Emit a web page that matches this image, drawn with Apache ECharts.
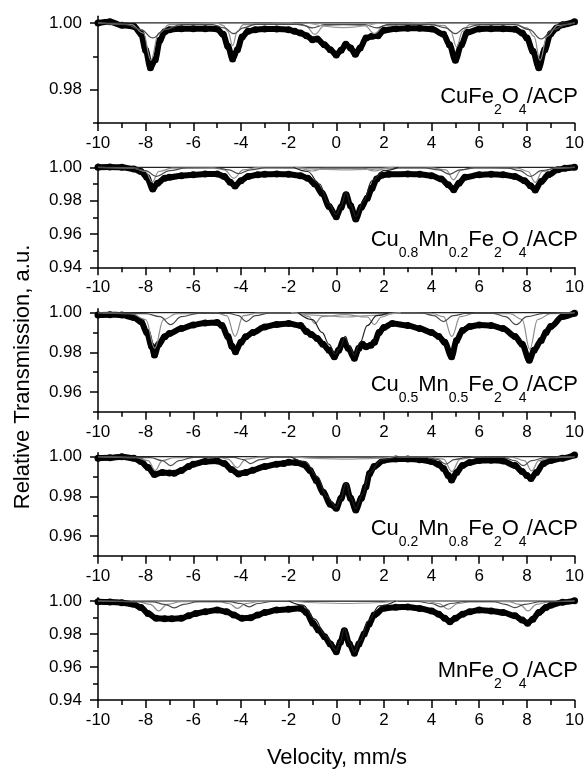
<!DOCTYPE html>
<html>
<head>
<meta charset="utf-8">
<script src="https://cdn.jsdelivr.net/npm/echarts@6/dist/echarts.min.js"></script>
<style>
  html, body { margin: 0; padding: 0; background: #fff; }
  #chart { width: 587px; height: 769px; }
</style>
</head>
<body>
<div id="chart"></div>
<script>
// velocity (mm/s), relative transmission
const cuFe2O4Data = [[-10,1.0000],[-9.5,1.0004],[-9,0.9993],[-8.5,0.9990],[-8.2,0.9968],[-8.0,0.9918],[-7.8,0.9866],[-7.6,0.9890],[-7.4,0.9948],[-7.2,0.9974],[-7.0,0.9980],[-6.5,0.9983],[-6,0.9983],[-5.5,0.9983],[-5,0.9982],[-4.75,0.9966],[-4.55,0.9930],[-4.35,0.9892],[-4.15,0.9920],[-3.95,0.9958],[-3.7,0.9975],[-3.4,0.9980],[-3,0.9982],[-2.5,0.9982],[-2,0.9980],[-1.75,0.9975],[-1.5,0.9970],[-1.25,0.9962],[-1.0,0.9950],[-0.8,0.9952],[-0.5,0.9935],[-0.25,0.9920],[0.0,0.9904],[0.2,0.9918],[0.4,0.9936],[0.6,0.9925],[0.8,0.9906],[1.0,0.9925],[1.25,0.9955],[1.5,0.9960],[1.75,0.9962],[2.0,0.9978],[2.5,0.9983],[3,0.9984],[3.5,0.9984],[4,0.9982],[4.5,0.9966],[4.75,0.9935],[5.0,0.9888],[5.25,0.9935],[5.5,0.9972],[6,0.9982],[6.5,0.9983],[7,0.9983],[7.5,0.9981],[7.8,0.9970],[8.0,0.9955],[8.25,0.9915],[8.5,0.9866],[8.75,0.9920],[9.0,0.9968],[9.25,0.9985],[9.5,0.9995],[10,1.0004]];
const cu08Data = [[-10,1.0000],[-9.5,1.0002],[-9,1.0000],[-8.5,0.9990],[-8.2,0.9975],[-7.95,0.9940],[-7.7,0.9870],[-7.5,0.9905],[-7.2,0.9935],[-7,0.9940],[-6.5,0.9950],[-6,0.9955],[-5.5,0.9960],[-5,0.9960],[-4.7,0.9945],[-4.45,0.9910],[-4.25,0.9888],[-4.0,0.9920],[-3.7,0.9945],[-3.3,0.9955],[-3,0.9958],[-2.5,0.9960],[-2,0.9958],[-1.5,0.9950],[-1.2,0.9935],[-0.9,0.9900],[-0.6,0.9845],[-0.3,0.9765],[0.0,0.9704],[0.2,0.9760],[0.41,0.9835],[0.6,0.9770],[0.82,0.9690],[1.05,0.9760],[1.3,0.9815],[1.5,0.9875],[1.7,0.9930],[1.9,0.9952],[2.2,0.9958],[3,0.9960],[3.5,0.9958],[4,0.9950],[4.4,0.9930],[4.7,0.9895],[4.93,0.9866],[5.15,0.9905],[5.4,0.9940],[6,0.9955],[6.5,0.9958],[7,0.9955],[7.5,0.9945],[7.9,0.9920],[8.15,0.9890],[8.35,0.9864],[8.6,0.9915],[8.9,0.9955],[9.3,0.9985],[9.6,0.9995],[10,1.0000]];
const cu05Data = [[-10,0.9988],[-9.5,0.9990],[-9,0.9988],[-8.5,0.9975],[-8.2,0.9955],[-7.95,0.9900],[-7.75,0.9830],[-7.63,0.9786],[-7.45,0.9840],[-7.2,0.9878],[-7,0.9895],[-6.5,0.9920],[-6,0.9938],[-5.5,0.9948],[-5,0.9950],[-4.8,0.9935],[-4.55,0.9880],[-4.38,0.9830],[-4.23,0.9803],[-4.0,0.9850],[-3.8,0.9878],[-3.5,0.9900],[-3,0.9928],[-2.5,0.9940],[-2,0.9945],[-1.5,0.9935],[-1.25,0.9905],[-1.05,0.9890],[-0.8,0.9870],[-0.56,0.9840],[-0.3,0.9810],[-0.08,0.9777],[0.1,0.9810],[0.3,0.9860],[0.5,0.9820],[0.76,0.9770],[0.95,0.9820],[1.1,0.9840],[1.25,0.9828],[1.45,0.9835],[1.6,0.9850],[1.8,0.9900],[2.0,0.9925],[2.35,0.9945],[3,0.9935],[3.5,0.9920],[4.0,0.9900],[4.3,0.9880],[4.55,0.9850],[4.84,0.9777],[5.05,0.9860],[5.3,0.9910],[5.6,0.9930],[6,0.9938],[6.5,0.9935],[7,0.9920],[7.5,0.9880],[7.8,0.9840],[8.1,0.9760],[8.3,0.9810],[8.6,0.9860],[8.8,0.9900],[9,0.9930],[9.5,0.9980],[10,0.9997]];
const cu02Data = [[-10,0.9992],[-9.5,0.9994],[-9,1.0000],[-8.5,0.9992],[-8.2,0.9975],[-7.9,0.9945],[-7.63,0.9910],[-7.3,0.9920],[-7,0.9918],[-6.8,0.9916],[-6.5,0.9930],[-6.2,0.9950],[-6,0.9962],[-5.5,0.9975],[-5,0.9978],[-4.7,0.9965],[-4.4,0.9935],[-4.1,0.9913],[-3.8,0.9920],[-3.5,0.9932],[-3,0.9950],[-2.5,0.9962],[-2.2,0.9966],[-2,0.9972],[-1.7,0.9970],[-1.39,0.9962],[-1.1,0.9930],[-0.84,0.9880],[-0.55,0.9820],[-0.25,0.9760],[0.0,0.9739],[0.2,0.9790],[0.41,0.9855],[0.6,0.9790],[0.82,0.9731],[1.05,0.9790],[1.24,0.9848],[1.4,0.9915],[1.59,0.9950],[2.0,0.9982],[2.5,0.9988],[3,0.9988],[3.5,0.9985],[4.0,0.9975],[4.3,0.9960],[4.5,0.9940],[4.7,0.9905],[4.84,0.9882],[5.05,0.9920],[5.3,0.9955],[5.6,0.9970],[6,0.9980],[6.5,0.9982],[7,0.9978],[7.5,0.9955],[7.8,0.9925],[8.0,0.9905],[8.17,0.9890],[8.4,0.9920],[8.7,0.9966],[9.0,0.9980],[9.5,0.9992],[10,1.0008]];
const mnFe2O4Data = [[-10,0.9996],[-9.5,0.9994],[-9,0.9990],[-8.5,0.9980],[-8.2,0.9960],[-7.9,0.9925],[-7.56,0.9895],[-7.2,0.9893],[-6.9,0.9892],[-6.5,0.9895],[-6.2,0.9910],[-5.9,0.9925],[-5.5,0.9935],[-5,0.9945],[-4.6,0.9935],[-4.3,0.9915],[-3.96,0.9895],[-3.6,0.9898],[-3.3,0.9915],[-3,0.9930],[-2.5,0.9945],[-2,0.9950],[-1.5,0.9956],[-1.25,0.9930],[-0.98,0.9865],[-0.75,0.9825],[-0.49,0.9784],[-0.25,0.9740],[0.0,0.9693],[0.17,0.9750],[0.34,0.9820],[0.55,0.9740],[0.76,0.9683],[0.95,0.9740],[1.17,0.9800],[1.38,0.9860],[1.59,0.9915],[2.0,0.9956],[2.5,0.9962],[3,0.9964],[3.5,0.9955],[4,0.9940],[4.3,0.9920],[4.55,0.9895],[4.77,0.9875],[5.0,0.9895],[5.3,0.9920],[5.6,0.9935],[6,0.9945],[6.5,0.9940],[7,0.9930],[7.5,0.9910],[7.8,0.9885],[8.03,0.9865],[8.25,0.9890],[8.5,0.9930],[8.8,0.9960],[9,0.9975],[9.5,0.9992],[10,1.0002]];

// fitted sub-spectra (key points)
const baseline = [[-10,1],[10,1]];
const p1SextetA = [[-10,1],[-8.6,0.9995],[-8.1,0.997],[-7.78,0.9888],[-7.45,0.997],[-7.0,0.9995],[-5,1],[-4.75,0.9993],[-4.55,0.9975],[-4.35,0.9932],[-4.15,0.9975],[-3.9,0.9995],[-2,1],[-1.3,0.9992],[-0.9,0.9966],[-0.5,0.9992],[0.3,0.9996],[1.2,0.9992],[1.6,0.9968],[2.0,0.9992],[3.5,1],[4.55,0.9992],[4.8,0.9975],[5.05,0.9928],[5.3,0.9975],[5.6,0.9995],[7.5,0.9997],[8.0,0.9985],[8.3,0.996],[8.55,0.9888],[8.85,0.996],[9.3,0.9993],[10,1]];
const p1SextetB = [[-10,1],[-8.8,0.9995],[-8.2,0.998],[-7.7,0.9955],[-7.2,0.998],[-6.5,0.9995],[-5.2,0.9995],[-4.7,0.9985],[-4.3,0.9968],[-3.9,0.9985],[-3.4,0.9996],[-1.5,0.9996],[-1.0,0.9985],[-0.5,0.9995],[1.2,0.9995],[1.7,0.9985],[2.2,0.9996],[4.0,0.9995],[4.6,0.9985],[5.0,0.9968],[5.4,0.9985],[6.0,0.9995],[7.5,0.9995],[8.1,0.998],[8.6,0.9952],[9.1,0.998],[9.7,0.9996],[10,1]];
const p1Arc = [[-1.2,1],[0.3,0.9986],[1.8,1]];

const p2SextetA = [[-10,1],[-8.5,0.9995],[-8.0,0.9975],[-7.72,0.9912],[-7.45,0.9975],[-6.9,0.9995],[-5.2,0.9998],[-4.7,0.9985],[-4.3,0.9935],[-3.9,0.9985],[-3.3,0.9998],[-1.6,0.9997],[-1.0,0.9978],[-0.5,0.9995],[1.1,0.9995],[1.6,0.9978],[2.2,0.9997],[4.0,0.9997],[4.6,0.9985],[4.92,0.9925],[5.25,0.9985],[5.8,0.9997],[7.6,0.9995],[8.05,0.9975],[8.35,0.9910],[8.65,0.9975],[9.2,0.9995],[10,1]];
const p2SextetB = [[-10,1],[-8.6,0.9995],[-8.0,0.998],[-7.55,0.9945],[-7.0,0.998],[-6.3,0.9996],[-5,0.9996],[-4.5,0.9985],[-4.1,0.9962],[-3.6,0.9985],[-3,0.9997],[3.7,0.9997],[4.3,0.9985],[4.75,0.9958],[5.2,0.9985],[5.8,0.9997],[7.2,0.9995],[7.7,0.998],[8.15,0.9945],[8.6,0.998],[9.3,0.9997],[10,1]];
const p2Doublet = [[-1.8,1],[-1.2,0.9975],[-0.7,0.9900],[-0.35,0.9790],[0.0,0.9718],[0.2,0.9765],[0.41,0.9850],[0.6,0.9775],[0.82,0.9705],[1.15,0.9800],[1.5,0.9920],[2.0,0.9980],[2.6,1]];
const p2Arc = [[-1.8,1],[-0.5,0.9988],[0.4,0.9985],[1.3,0.9988],[2.4,1]];

const p3SextetA = [[-10,1],[-8.6,0.9995],[-8.0,0.9965],[-7.62,0.9820],[-7.25,0.9965],[-6.7,0.9995],[-5,0.9998],[-4.6,0.9985],[-4.25,0.9880],[-3.9,0.9985],[-3.3,0.9998],[-1.6,0.9998],[-1.15,0.9980],[-0.9,0.9945],[-0.6,0.9980],[0.35,0.9990],[1.3,0.9978],[1.6,0.9940],[1.9,0.9978],[2.4,0.9998],[4.0,0.9997],[4.5,0.9980],[4.85,0.9880],[5.2,0.9980],[5.8,0.9997],[7.3,0.9995],[7.8,0.9965],[8.12,0.9815],[8.45,0.9965],[9.0,0.9995],[10,1]];
const p3SextetB = [[-10,1],[-8,0.9995],[-7.4,0.998],[-6.95,0.9940],[-6.5,0.998],[-5.8,0.9996],[-4.5,0.9996],[-4.1,0.9985],[-3.78,0.9955],[-3.4,0.9985],[-2.8,0.9997],[3.6,0.9997],[4.1,0.9985],[4.5,0.9955],[4.9,0.9985],[5.5,0.9997],[6.6,0.9996],[7.1,0.998],[7.55,0.9940],[8.0,0.998],[8.7,0.9996],[10,1]];
const p3Doublet = [[-1.6,1],[-1.0,0.9965],[-0.6,0.9900],[-0.3,0.9840],[-0.05,0.9790],[0.15,0.9820],[0.38,0.9880],[0.55,0.9830],[0.76,0.9785],[1.0,0.9850],[1.3,0.9935],[1.7,0.9985],[2.2,1]];
const p3Arc = [[-1.9,1],[-0.5,0.9985],[0.4,0.9978],[1.3,0.9985],[2.7,1]];

const p4SextetA = [[-10,1],[-8.4,0.9995],[-7.9,0.998],[-7.6,0.9930],[-7.3,0.998],[-6.8,0.9995],[-5,0.9998],[-4.55,0.9988],[-4.15,0.9945],[-3.8,0.9988],[-3.2,0.9998],[3.9,0.9998],[4.5,0.9988],[4.85,0.9925],[5.2,0.9988],[5.8,0.9998],[7.4,0.9996],[7.9,0.998],[8.2,0.9928],[8.5,0.998],[9.0,0.9995],[10,1]];
const p4SextetB = [[-10,1],[-7.8,0.9995],[-7.3,0.998],[-6.95,0.9955],[-6.6,0.998],[-6,0.9996],[-4.3,0.9996],[-3.9,0.9985],[-3.6,0.9965],[-3.2,0.9985],[-2.6,0.9997],[3.7,0.9997],[4.25,0.9985],[4.6,0.9962],[4.95,0.9985],[5.5,0.9997],[7.0,0.9996],[7.5,0.998],[7.85,0.9955],[8.2,0.998],[8.8,0.9996],[10,1]];
const p4Doublet = [[-1.9,1],[-1.3,0.9975],[-0.8,0.9900],[-0.4,0.9800],[0.0,0.9745],[0.2,0.9790],[0.41,0.9870],[0.6,0.9795],[0.82,0.9738],[1.1,0.9810],[1.4,0.9920],[1.9,0.9985],[2.6,1]];
const p4Arc = [[-1.9,1],[-0.6,0.9990],[0.4,0.9988],[1.4,0.9990],[2.6,1]];

const p5SextetA = [[-10,1],[-8.3,0.9995],[-7.8,0.998],[-7.45,0.9940],[-7.1,0.998],[-6.5,0.9996],[-4.9,0.9996],[-4.5,0.9985],[-4.15,0.9955],[-3.8,0.9985],[-3.2,0.9997],[3.8,0.9997],[4.3,0.9985],[4.7,0.9950],[5.1,0.9985],[5.7,0.9997],[7.2,0.9996],[7.7,0.998],[8.05,0.9940],[8.4,0.998],[9.0,0.9996],[10,1]];
const p5SextetB = [[-10,1],[-7.7,0.9995],[-7.2,0.998],[-6.8,0.9958],[-6.4,0.998],[-5.8,0.9996],[-4.5,0.9996],[-4.0,0.9985],[-3.65,0.9965],[-3.3,0.9985],[-2.7,0.9997],[3.4,0.9997],[4.0,0.9985],[4.4,0.9965],[4.8,0.9985],[5.4,0.9997],[6.6,0.9996],[7.1,0.998],[7.5,0.9960],[7.9,0.998],[8.6,0.9996],[10,1]];
const p5Doublet = [[-2.0,1],[-1.4,0.9975],[-0.9,0.9890],[-0.45,0.9790],[0.0,0.9700],[0.17,0.9755],[0.34,0.9835],[0.55,0.9750],[0.76,0.9690],[1.0,0.9760],[1.35,0.9880],[1.8,0.9970],[2.5,1]];
const p5Arc = [[-2.0,1],[-0.6,0.9988],[0.4,0.9985],[1.4,0.9988],[2.6,1]];

// axis ticks
const velocityRange = [-10, 10];
const p1Ticks = [0.98, 1.00], p1Minor = [0.97, 0.99];
const p2Ticks = [0.94, 0.96, 0.98, 1.00], p2Minor = [0.95, 0.97, 0.99];
const p3Ticks = [0.96, 0.98, 1.00], p3Minor = [0.95, 0.97, 0.99];
const p4Ticks = [0.96, 0.98, 1.00], p4Minor = [0.95, 0.97, 0.99];
const p5Ticks = [0.94, 0.96, 0.98, 1.00], p5Minor = [0.95, 0.97, 0.99];

const sampleLabels = [
  "{n|CuFe}{s|2}{n|O}{s|4}{n|/ACP}",
  "{n|Cu}{s|0.8}{n|Mn}{s|0.2}{n|Fe}{s|2}{n|O}{s|4}{n|/ACP}",
  "{n|Cu}{s|0.5}{n|Mn}{s|0.5}{n|Fe}{s|2}{n|O}{s|4}{n|/ACP}",
  "{n|Cu}{s|0.2}{n|Mn}{s|0.8}{n|Fe}{s|2}{n|O}{s|4}{n|/ACP}",
  "{n|MnFe}{s|2}{n|O}{s|4}{n|/ACP}"
];

const FONT = "'Liberation Sans', Arial, sans-serif";

const panels = [
  { top: 16.3, height: 106.7, min: 0.97, ticks: p1Ticks, minor: p1Minor, data: cuFe2O4Data, comps: [p1SextetA, p1SextetB, p1Arc], labelY: 86.3 },
  { top: 164, height: 103.3, min: 0.94, ticks: p2Ticks, minor: p2Minor, data: cu08Data, comps: [p2SextetA, p2SextetB, p2Arc, p2Doublet], labelY: 228.7 },
  { top: 308.7, height: 103, min: 0.95, ticks: p3Ticks, minor: p3Minor, data: cu05Data, comps: [p3SextetA, p3SextetB, p3Arc, p3Doublet], labelY: 374.3 },
  { top: 452.7, height: 103, min: 0.95, ticks: p4Ticks, minor: p4Minor, data: cu02Data, comps: [p4SextetA, p4SextetB, p4Arc, p4Doublet], labelY: 517.7 },
  { top: 597.7, height: 102.3, min: 0.94, ticks: p5Ticks, minor: p5Minor, data: mnFe2O4Data, comps: [p5SextetA, p5SextetB, p5Arc, p5Doublet], labelY: 659.7 }
];

const compColors = ["#8c8c8c", "#4a4a4a", "#9a9a9a", "#222222"];

const grid = [], xAxis = [], yAxis = [], series = [], graphic = [];

panels.forEach((p, i) => {
  grid.push({ left: 98, right: 8, top: p.top, height: p.height });

  xAxis.push({
    type: "value", gridIndex: i, min: velocityRange[0], max: velocityRange[1], interval: 2,
    axisLine: { onZero: false, lineStyle: { color: "#000", width: 1.5 } },
    axisTick: { length: 8, lineStyle: { color: "#000", width: 1.5 } },
    minorTick: { show: true, splitNumber: 2, length: 5, lineStyle: { color: "#000", width: 1.5 } },
    axisLabel: { color: "#000", fontSize: 17, fontFamily: FONT, margin: 12 },
    splitLine: { show: false }
  });

  yAxis.push({
    type: "value", gridIndex: i, position: "left", min: p.min, max: 1.002,
    axisLine: { onZero: false, lineStyle: { color: "#000", width: 1.5 } },
    axisTick: { customValues: p.ticks, length: 8, lineStyle: { color: "#000", width: 1.5 } },
    axisLabel: { customValues: p.ticks, color: "#000", fontSize: 17, fontFamily: FONT, margin: 16,
      formatter: v => v.toFixed(2) },
    splitLine: { show: false }
  });
  // second left axis only carries the short minor ticks
  yAxis.push({
    type: "value", gridIndex: i, position: "left", offset: 0, min: p.min, max: 1.002,
    axisLine: { show: false, onZero: false },
    axisTick: { customValues: p.minor, length: 5, lineStyle: { color: "#000", width: 1.5 } },
    axisLabel: { show: false },
    splitLine: { show: false }
  });

  const yi = i * 2;

  series.push({
    type: "line", xAxisIndex: i, yAxisIndex: yi, data: p.data,
    smooth: 0.35, smoothMonotone: "x",
    symbol: "circle", symbolSize: 7, showSymbol: true,
    itemStyle: { color: "#000" },
    lineStyle: { color: "#000", width: 6 },
    z: 2
  });

  series.push({
    type: "line", xAxisIndex: i, yAxisIndex: yi, data: baseline,
    symbol: "none", lineStyle: { color: "#222", width: 1.2 }, z: 3
  });

  p.comps.forEach((c, k) => {
    series.push({
      type: "line", xAxisIndex: i, yAxisIndex: yi, data: c,
      smooth: 0.4, smoothMonotone: "x", symbol: "none",
      lineStyle: { color: compColors[k], width: 1.2 }, z: 4
    });
  });

  graphic.push({
    type: "text", x: 578, y: p.labelY, z: 10,
    style: {
      text: sampleLabels[i], align: "right", verticalAlign: "top", fill: "#000",
      fontFamily: FONT, fontSize: 22,
      rich: {
        n: { fontSize: 22, lineHeight: 22, verticalAlign: "top", fontFamily: FONT, fill: "#000" },
        s: { fontSize: 14, lineHeight: 14, verticalAlign: "top", padding: [17, 0, 0, 0], fontFamily: FONT, fill: "#000" }
      }
    }
  });
});

graphic.push({
  type: "text", x: 23, y: 377, rotation: Math.PI / 2, z: 10,
  style: { text: "Relative Transmission, a.u.", align: "center", verticalAlign: "middle",
    fill: "#000", fontFamily: FONT, fontSize: 22 }
});
graphic.push({
  type: "text", x: 337, y: 758, z: 10,
  style: { text: "Velocity, mm/s", align: "center", verticalAlign: "middle",
    fill: "#000", fontFamily: FONT, fontSize: 22 }
});

const chart = echarts.init(document.getElementById("chart"), null, { renderer: "canvas" });
chart.setOption({
  animation: false,
  backgroundColor: "#fff",
  grid, xAxis, yAxis, series, graphic
});
</script>
</body>
</html>
